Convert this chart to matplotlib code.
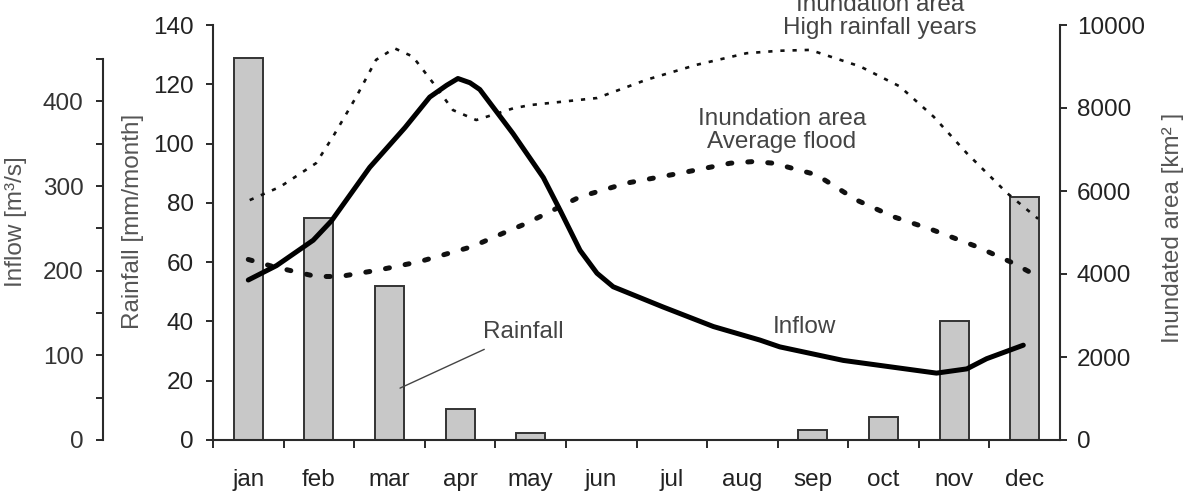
import numpy as np
import matplotlib.pyplot as plt

plt.rcParams["font.family"] = ["Liberation Sans", "DejaVu Sans"]

# Monthly rainfall (bars)
months = ["jan", "feb", "mar", "apr", "may", "jun", "jul", "aug", "sep", "oct", "nov", "dec"]
rainfall = [129, 75, 52, 10.4, 2.3, 0, 0, 0, 3.4, 7.7, 40, 82]

# Inflow curve (month position, m3/s)
inflow_x = [0.0, 0.40, 0.92, 1.18, 1.72, 2.22, 2.57, 2.81, 2.97, 3.14, 3.28, 3.75, 4.18, 4.42,
            4.70, 4.94, 5.17, 5.88, 6.59, 7.25, 7.53, 8.43, 9.75, 10.18, 10.46, 10.98]
inflow_y = [189, 206, 236, 259, 322, 369, 405, 419, 427, 422, 414, 362, 310, 271,
            224, 197, 181, 157, 134, 118, 110, 94, 79, 84, 96, 112]

# Inundation area, average flood (km2)
avg_x = [0.0, 0.35, 0.96, 1.30, 1.86, 2.43, 3.09, 3.28, 3.66, 3.94, 4.70, 5.36,
         6.12, 6.83, 7.16, 7.44, 8.05, 8.62, 9.14, 9.70, 10.32, 10.84, 11.10]
avg_y = [4350, 4180, 3940, 3940, 4100, 4300, 4620, 4740, 5020, 5220, 5860, 6190,
         6430, 6670, 6710, 6670, 6390, 5780, 5380, 5060, 4660, 4260, 4020]

# Inundation area, high rainfall years (km2)
high_x = [0.02, 0.45, 0.96, 1.20, 1.53, 1.81, 2.07, 2.33, 2.62, 2.90, 3.23, 3.75,
          3.99, 4.94, 5.64, 6.35, 7.06, 7.53, 7.96, 8.67, 9.23, 9.71, 10.18, 10.75, 11.19]
high_y = [5780, 6100, 6670, 7310, 8270, 9160, 9440, 9240, 8600, 7950, 7710, 7990,
          8070, 8240, 8680, 9040, 9320, 9380, 9400, 9000, 8520, 7790, 6910, 5950, 5330]

spine_c = "#2a2a2a"
tick_c = "#222222"
label_c = "#555555"
note_c = "#444444"
fs = 17.5

fig = plt.figure(figsize=(11.94, 4.93), dpi=100)
ax = fig.add_axes([213 / 1194, 1 - 440 / 493, 847 / 1194, 415 / 493])
ax_r = ax.twinx()
ax_in = ax.twinx()

x = np.arange(len(months))
ax.bar(x, rainfall, width=0.41, color="#c8c8c8", edgecolor="#333333", linewidth=1.4, zorder=2)
ax.set_xlim(-0.5, 11.5)
ax.set_ylim(0, 140)
ax.set_yticks(np.arange(0, 141, 20))

ax.set_xticks(np.arange(-0.5, 11, 1))
ax.set_xticklabels([])
ax.set_xticks(x, minor=True)
ax.set_xticklabels(months, minor=True)
ax.tick_params(axis="x", which="minor", length=0, pad=21, labelsize=fs, labelcolor=tick_c)
ax.tick_params(axis="x", which="major", direction="out", length=6, width=1.4, color=spine_c)
ax.tick_params(axis="y", direction="out", length=5, width=1.4, color=spine_c,
               labelsize=fs, labelcolor=tick_c, pad=9)
for s in ["top", "right"]:
    ax.spines[s].set_visible(False)
for s in ["left", "bottom"]:
    ax.spines[s].set_color(spine_c)
    ax.spines[s].set_linewidth(1.5)

# right axis: inundated area
ax_r.plot(high_x, high_y, color="#111111", linewidth=1.9, linestyle=(0, (1.6, 3.0)))
ax_r.plot(avg_x, avg_y, color="#111111", linewidth=3.6, linestyle=(0, (0.8, 3.2)),
          dash_capstyle="round")
ax_r.set_ylim(0, 10000)
ax_r.set_yticks(np.arange(0, 10001, 2000))
ax_r.tick_params(axis="y", direction="out", length=5, width=1.4, color=spine_c,
                 labelsize=fs, labelcolor=tick_c, pad=7)
for s in ["top", "left", "bottom"]:
    ax_r.spines[s].set_visible(False)
ax_r.spines["right"].set_color(spine_c)
ax_r.spines["right"].set_linewidth(1.5)

# far-left axis: inflow
ax_in.plot(inflow_x, inflow_y, color="black", linewidth=3.6, solid_capstyle="round",
           solid_joinstyle="round")
ax_in.set_ylim(0, 490.2)
ax_in.spines["left"].set_position(("axes", -110 / 847))
ax_in.spines["left"].set_bounds(0, 450)
ax_in.spines["left"].set_visible(True)
ax_in.spines["left"].set_color(spine_c)
ax_in.spines["left"].set_linewidth(1.5)
for s in ["top", "right", "bottom"]:
    ax_in.spines[s].set_visible(False)
ax_in.yaxis.set_ticks_position("left")
ax_in.set_yticks(np.arange(0, 451, 50))
ax_in.set_yticklabels([str(v) if v % 100 == 0 and v <= 400 else "" for v in range(0, 451, 50)])
ax_in.tick_params(axis="y", direction="out", length=5, width=1.4, color=spine_c,
                  labelsize=fs, labelcolor="#333333", pad=9)

# axis labels
fig.text(16 / 1194, 1 - 222 / 493, "Inflow [m³/s]", rotation=90, ha="center", va="center",
         fontsize=fs, color=label_c)
fig.text(133 / 1194, 1 - 221 / 493, "Rainfall [mm/month]", rotation=90, ha="center", va="center",
         fontsize=fs, color=label_c)
fig.text(1173 / 1194, 1 - 228 / 493, "Inundated area [km² ]", rotation=90, ha="center", va="center",
         fontsize=fs, color=label_c)

# annotations
ax.text(8.95, 142.9, "Inundation area\nHigh rainfall years", ha="center", va="center",
        fontsize=fs, color=note_c, linespacing=1.05, clip_on=False)
ax.text(7.56, 104.4, "Inundation area\nAverage flood", ha="center", va="center",
        fontsize=fs, color=note_c, linespacing=1.05)
ax.annotate("Rainfall", xy=(2.15, 17.5), xytext=(3.89, 36.4), ha="center", va="center",
            fontsize=fs, color=note_c,
            arrowprops=dict(arrowstyle="-", color=note_c, linewidth=1.0,
                            relpos=(0.19, 0.0), shrinkA=6, shrinkB=0))
ax.text(7.43, 38.1, "Inflow", ha="left", va="center", fontsize=fs, color=note_c)

fig.savefig("out.png", dpi=100)
